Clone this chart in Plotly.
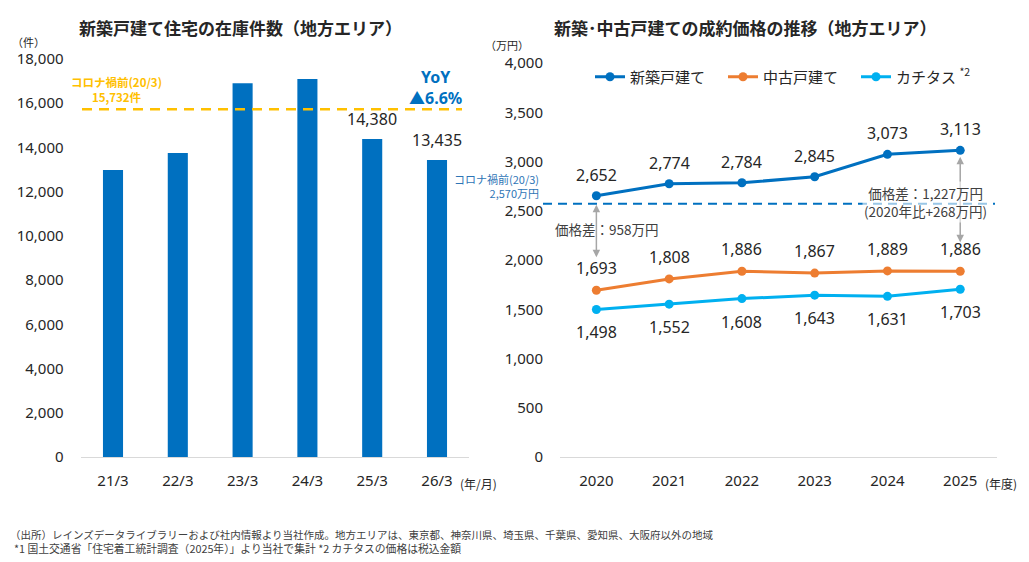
import plotly.graph_objects as go

W, H = 1029, 562


def px(x):
    return x / W


def py(y):
    return 1 - y / H


# ---------------- data ----------------
stock_months = ["21/3", "22/3", "23/3", "24/3", "25/3", "26/3"]
stock_counts = [12980, 13750, 16900, 17100, 14380, 13435]
stock_labels = ["", "", "", "", "14,380", "13,435"]
pre_covid_stock = 15732

years = ["2020", "2021", "2022", "2023", "2024", "2025"]
new_price = [2652, 2774, 2784, 2845, 3073, 3113]
used_price = [1693, 1808, 1886, 1867, 1889, 1886]
katitas_price = [1498, 1552, 1608, 1643, 1631, 1703]
pre_covid_price = 2570

left_yticks = [0, 2000, 4000, 6000, 8000, 10000, 12000, 14000, 16000, 18000]
right_yticks = [0, 500, 1000, 1500, 2000, 2500, 3000, 3500, 4000]

# ---------------- style ----------------
FONT = "Noto Sans, Noto Sans CJK JP, sans-serif"
JFONT = "Noto Sans CJK JP, Noto Sans, sans-serif"
TXT = "#262626"
BLUE = "#0070C0"
ORANGE = "#ED7D31"
LBLUE = "#00B0F0"
YELLOW = "#FFC000"
GRAY = "#A6A6A6"

fig = go.Figure()

fig.add_trace(go.Bar(
    x=stock_months, y=stock_counts, marker=dict(color=BLUE, line=dict(width=0)),
    xaxis="x", yaxis="y", showlegend=False, hoverinfo="skip",
))

fig.add_trace(go.Scatter(
    x=years, y=new_price, name="新築戸建て", mode="lines+markers",
    line=dict(color=BLUE, width=3), marker=dict(size=9, color=BLUE),
    xaxis="x2", yaxis="y2", cliponaxis=False,
))
fig.add_trace(go.Scatter(
    x=years, y=used_price, name="中古戸建て", mode="lines+markers",
    line=dict(color=ORANGE, width=3), marker=dict(size=9, color=ORANGE),
    xaxis="x2", yaxis="y2", cliponaxis=False,
))
fig.add_trace(go.Scatter(
    x=years, y=katitas_price, name="カチタス <sup>*2</sup>", mode="lines+markers",
    line=dict(color=LBLUE, width=3), marker=dict(size=9, color=LBLUE),
    xaxis="x2", yaxis="y2", cliponaxis=False,
))

ann = []


def note(x, y, text, size, color, xanchor="center", family=JFONT, **kw):
    d = dict(x=px(x), y=py(y), xref="paper", yref="paper", showarrow=False,
             xanchor=xanchor, yanchor="middle", text=text,
             font=dict(family=family, size=size, color=color))
    d.update(kw)
    ann.append(d)


# bar labels (category index positions)
for i, (v, t) in enumerate(zip(stock_counts, stock_labels)):
    if t:
        ann.append(dict(x=i, y=v, xref="x", yref="y", text=t, showarrow=False,
                        xanchor="center", yanchor="middle",
                        yshift=20, font=dict(family=FONT, size=16, color=TXT)))

# line labels
for series, shift in ((new_price, 21), (used_price, 22), (katitas_price, -23)):
    for i, v in enumerate(series):
        ann.append(dict(x=i, y=v, xref="x2", yref="y2", text=f"{v:,}", showarrow=False,
                        xanchor="center", yanchor="middle",
                        yshift=shift, font=dict(family=FONT, size=16, color=TXT)))

# gray double arrows
ann.append(dict(x=0, y=used_price[0], xref="x2", yref="y2", text="",
                showarrow=True, ax=0, ay=-54, yshift=33, arrowside="end+start",
                arrowhead=2, arrowsize=1, arrowwidth=1.5, arrowcolor=GRAY,
                standoff=0, startstandoff=0))
ann.append(dict(x=5, y=used_price[5], xref="x2", yref="y2", text="",
                showarrow=True, ax=0, ay=-87, yshift=29, arrowside="end+start",
                arrowhead=2, arrowsize=1, arrowwidth=1.5, arrowcolor=GRAY,
                standoff=0, startstandoff=0))

# titles
note(240, 27, "<b>新築戸建て住宅の在庫件数（地方エリア）</b>", 17, TXT)
note(745, 28, "<b>新築･中古戸建ての成約価格の推移（地方エリア）</b>", 17, TXT)

# unit labels
note(28, 42, "（件）", 11, TXT)
note(507, 45, "（万円）", 11, TXT)
note(458, 483, "(年/月)", 12, TXT, xanchor="left")
note(983, 483, "(年度)", 12, TXT, xanchor="left")

# callouts
note(116, 89, "<b>コロナ禍前(20/3)<br>15,732件</b>", 11.5, YELLOW, align="center")
note(435, 88, "<b>YoY<br>▲6.6%</b>", 16, BLUE, family=FONT, align="center")
note(541, 186, "コロナ禍前(20/3)<br>2,570万円", 11, "#2E75B6", xanchor="right", align="right")
note(553, 229, "価格差：958万円", 13.5, "#404040", xanchor="left")
note(925, 202, "価格差：1,227万円<br>(2020年比+268万円)", 13.5, "#404040",
     align="center", bgcolor="rgba(255,255,255,0.6)")

# footer
note(8, 534, "（出所）レインズデータライブラリーおよび社内情報より当社作成。地方エリアは、東京都、神奈川県、埼玉県、千葉県、愛知県、大阪府以外の地域",
     10.5, "#404040", xanchor="left")
note(12, 548, "*1 国土交通省「住宅着工統計調査（2025年）」より当社で集計 *2 カチタスの価格は税込金額",
     10.8, "#404040", xanchor="left")

shapes = [
    dict(type="line", xref="paper", yref="y", x0=px(82), x1=px(462),
         y0=pre_covid_stock, y1=pre_covid_stock,
         line=dict(color=YELLOW, width=2.5, dash="10px,7px")),
    dict(type="line", xref="paper", yref="y2", x0=px(543), x1=px(995),
         y0=pre_covid_price, y1=pre_covid_price,
         line=dict(color=BLUE, width=2, dash="9px,6px")),
]

axis_common = dict(showgrid=False, zeroline=False, fixedrange=True)

fig.update_layout(
    width=W, height=H, margin=dict(l=0, r=0, t=0, b=0, autoexpand=False),
    paper_bgcolor="white", plot_bgcolor="white",
    font=dict(family=FONT, color=TXT),
    bargap=0.69,
    xaxis=dict(domain=[px(80.6), px(469.4)], type="category", anchor="y",
               range=[-0.5, 5.5],
               showline=True, linecolor="#D9D9D9", linewidth=1,
               ticks="outside", ticklen=10, tickcolor="rgba(0,0,0,0)",
               tickfont=dict(size=15, color=TXT), **axis_common),
    yaxis=dict(domain=[py(457), py(59)], range=[0, 18000], anchor="x",
               tickvals=left_yticks, ticktext=[f"{v:,}" for v in left_yticks],
               ticks="outside", ticklen=13, tickcolor="rgba(0,0,0,0)",
               tickfont=dict(size=15, color=TXT), **axis_common),
    xaxis2=dict(domain=[px(560), px(996.6)], type="category", anchor="y2",
                range=[-0.5, 5.5],
                showline=True, linecolor="#D9D9D9", linewidth=1,
                ticks="outside", ticklen=10, tickcolor="rgba(0,0,0,0)",
                tickfont=dict(size=15, color=TXT), **axis_common),
    yaxis2=dict(domain=[py(457), py(63)], range=[0, 4000], anchor="x2",
                tickvals=right_yticks, ticktext=[f"{v:,}" for v in right_yticks],
                ticks="outside", ticklen=13, tickcolor="rgba(0,0,0,0)",
                tickfont=dict(size=15, color=TXT), **axis_common),
    legend=dict(orientation="h", x=px(590), y=py(77), xanchor="left", yanchor="middle",
                entrywidth=88, entrywidthmode="pixels", bgcolor="rgba(0,0,0,0)",
                font=dict(family=JFONT, size=15, color=TXT), tracegroupgap=0),
    annotations=ann,
    shapes=shapes,
)

fig.write_html("out.html", config={"displayModeBar": False},
               post_script="document.body.style.margin='0';")
